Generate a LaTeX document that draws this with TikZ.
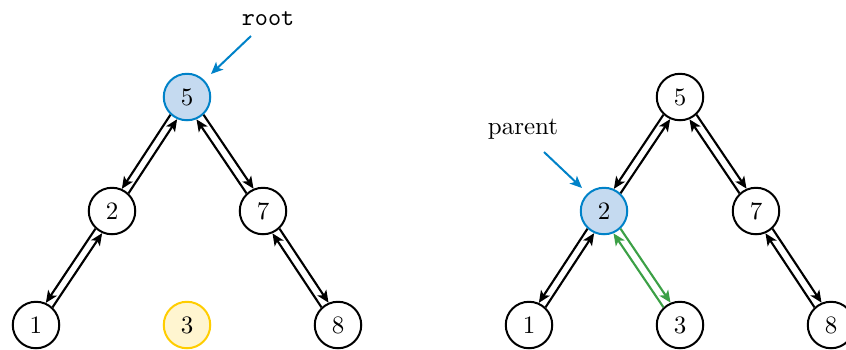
\documentclass[tikz,border=0pt]{standalone}
\usetikzlibrary{arrows.meta}
\definecolor{hlblue}{RGB}{0,130,200}
\definecolor{hlbluefill}{RGB}{197,218,240}
\definecolor{hlyellow}{RGB}{255,205,0}
\definecolor{hlyellowfill}{RGB}{255,245,208}
\definecolor{hlgreen}{RGB}{60,160,70}
\newcommand\edgeleft[3][black]{%
  \draw[tedge,#1] (#2.227) -- (#3.66.32);
  \draw[tedge,#1] (#3.47) -- (#2.246.32);}
\newcommand\edgeright[3][black]{%
  \draw[tedge,#1] (#2.313) -- (#3.113.68);
  \draw[tedge,#1] (#3.133) -- (#2.293.68);}
\begin{document}
\begin{tikzpicture}[x=0.4pt,y=-0.4pt,
  tn/.style={circle,draw,line width=0.8pt,minimum size=18.6pt,inner sep=0pt,fill=white},
  bluen/.style={tn,draw=hlblue,fill=hlbluefill},
  yellown/.style={tn,draw=hlyellow,fill=hlyellowfill},
  tedge/.style={line width=0.85pt,-{Stealth[length=4.8pt,width=4.2pt,inset=1.2pt]}},
  lblarrow/.style={line width=0.8pt,draw=hlblue,-{Stealth[length=4.8pt,width=4.2pt,inset=1.2pt]}}]
\clip (0,0) rectangle (846,349);
% left tree
\node[bluen] (L5) at (187,97) {5};
\node[tn] (L2) at (112,211) {2};
\node[tn] (L7) at (263,211) {7};
\node[tn] (L1) at (36,325) {1};
\node[yellown] (L3) at (187,325) {3};
\node[tn] (L8) at (338,325) {8};
\edgeleft{L5}{L2}
\edgeright{L5}{L7}
\edgeleft{L2}{L1}
\edgeright{L7}{L8}
\node (rootlbl) at (268,19) {\texttt{root}};
\coordinate (rootstart) at (251,36);
\draw[lblarrow] (rootstart) -- (211,74);
% right tree
\node[tn] (R5) at (680,97) {5};
\node[bluen] (R2) at (604,211) {2};
\node[tn] (R7) at (756,211) {7};
\node[tn] (R1) at (529,325) {1};
\node[tn] (R3) at (680,325) {3};
\node[tn] (R8) at (831,325) {8};
\edgeleft{R5}{R2}
\edgeright{R5}{R7}
\edgeleft{R2}{R1}
\edgeright[hlgreen]{R2}{R3}
\edgeright{R7}{R8}
\node (parentlbl) at (523,129) {parent};
\coordinate (parentstart) at (544,152);
\draw[lblarrow] (parentstart) -- (582,188);
\end{tikzpicture}
\end{document}
